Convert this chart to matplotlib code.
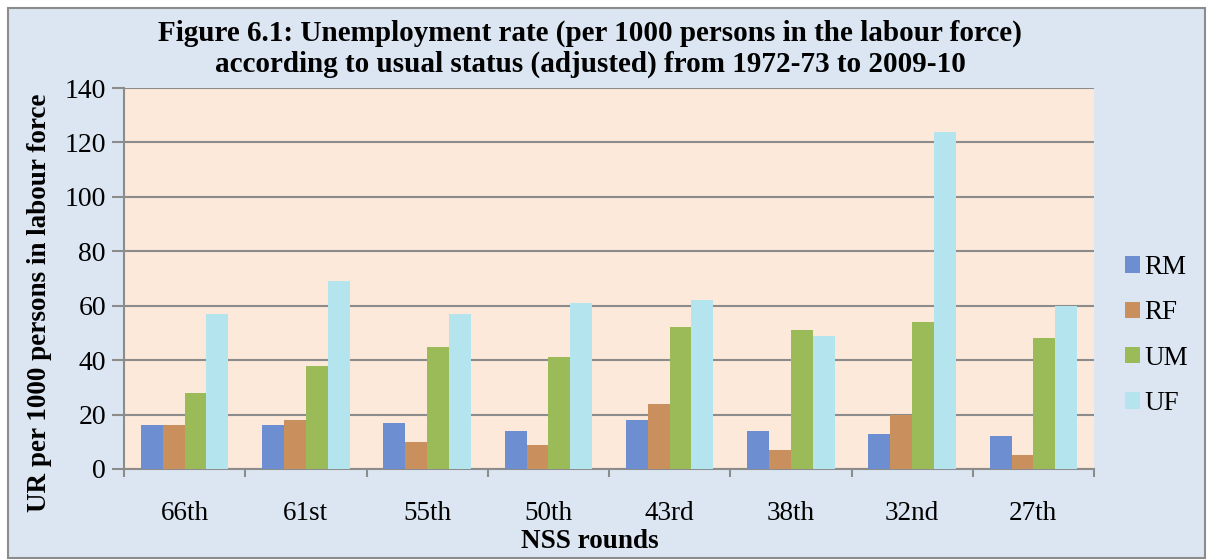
import matplotlib
matplotlib.use("Agg")
import matplotlib.pyplot as plt
import numpy as np
from matplotlib.patches import Rectangle

rounds = ["66th", "61st", "55th", "50th", "43rd", "38th", "32nd", "27th"]
series_names = ["RM", "RF", "UM", "UF"]
RM = [16, 16, 17, 14, 18, 14, 13, 12]
RF = [16, 18, 10, 9, 24, 7, 20, 5]
UM = [28, 38, 45, 41, 52, 51, 54, 48]
UF = [57, 69, 57, 61, 62, 49, 124, 60]
yticks = [0, 20, 40, 60, 80, 100, 120, 140]

colors = ["#6d8ed0", "#c98f5c", "#9bbb59", "#b4e5ef"]

plt.rcParams["font.family"] = ["Liberation Serif", "DejaVu Serif"]

fig = plt.figure(figsize=(12.09, 5.6), dpi=100)
fig.patch.set_facecolor("white")
fig.patches.append(Rectangle((8/1209, 2/560), 1197/1209, 550/560, transform=fig.transFigure,
                             facecolor="#dce6f2", edgecolor="#8c8c8c", linewidth=1.5, zorder=-10))

ax = fig.add_axes([124/1209, 1 - 469/560, (1094-124)/1209, (469-88)/560])
ax.set_facecolor("#fde9d9")

x = np.arange(len(rounds))
w = 0.18
for i, (name, vals) in enumerate(zip(series_names, [RM, RF, UM, UF])):
    ax.bar(x + (i - 1.5) * w, vals, width=w, color=colors[i], edgecolor="none",
           label=name, zorder=3)

ax.set_xlim(-0.5, len(rounds) - 0.5)
ax.set_ylim(0, 140)
ax.set_yticks(yticks)
ax.set_yticklabels([str(t) for t in yticks], fontsize=20)
ax.yaxis.grid(True, color="#8c8c8c", linewidth=1.5, zorder=0)
ax.set_axisbelow(True)
ax.set_xticks(x)
ax.set_xticklabels(rounds, fontsize=19.5)
ax.set_xticks(np.arange(-0.5, len(rounds)), minor=True)
ax.tick_params(axis="x", which="major", length=0, pad=23)
ax.tick_params(axis="x", which="minor", length=6, width=1.5, color="#8c8c8c")
ax.tick_params(axis="y", length=9, width=1.5, color="#8c8c8c", pad=4)
for s in ["top", "right"]:
    ax.spines[s].set_visible(False)
for s in ["left", "bottom"]:
    ax.spines[s].set_color("#8c8c8c")
    ax.spines[s].set_linewidth(1.5)

ax.set_xlabel("NSS rounds", fontsize=19.5, fontweight="bold", labelpad=0)
ax.xaxis.set_label_coords((590 - 124) / 970, -(541 - 469) / 381)
ax.xaxis.label.set_va("center")
ax.set_ylabel("UR per 1000 persons in labour force", fontsize=19.5, fontweight="bold")
ax.yaxis.set_label_coords(-(124 - 40) / 970, (469 - 303) / 381)
ax.yaxis.label.set_va("center")

fig.text(590/1209, 1 - 49/560,
         "Figure 6.1: Unemployment rate (per 1000 persons in the labour force)\naccording to usual status (adjusted) from 1972-73 to 2009-10",
         ha="center", va="center", fontsize=21, fontweight="bold", linespacing=1.15)

leg = ax.legend(loc="upper left", bbox_to_anchor=(1.021, 0.59), frameon=False,
                fontsize=19.5, handlelength=0.55, handleheight=0.55, handletextpad=0.15,
                labelspacing=0.75, borderaxespad=0)

fig.savefig("out.png", dpi=100, facecolor=fig.get_facecolor())
